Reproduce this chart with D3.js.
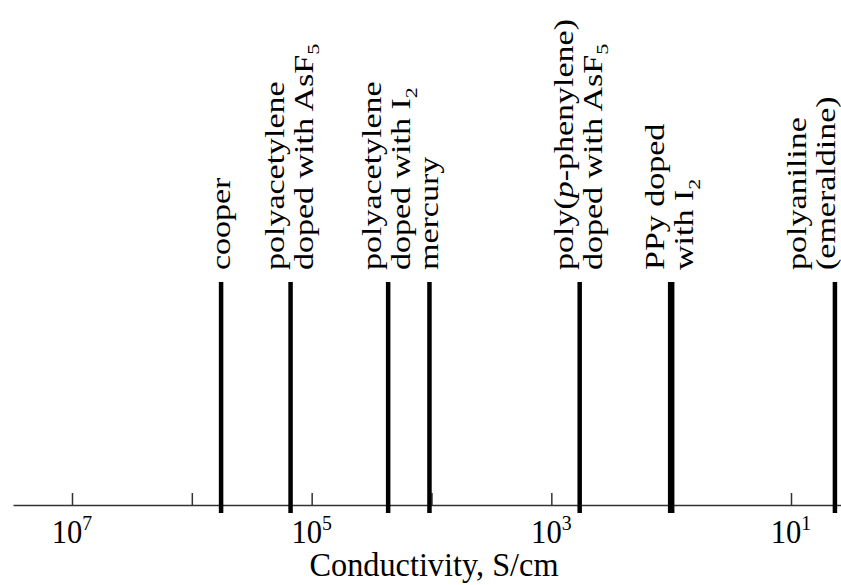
<!DOCTYPE html>
<html>
<head>
<meta charset="utf-8">
<script src="https://cdn.jsdelivr.net/npm/d3@7"></script>
<style>
  body { margin: 0; background: #fff; }
  text { font-family: "Liberation Serif", "Times New Roman", serif; fill: #000; }
</style>
</head>
<body>
<div id="chart"></div>
<script>
// materials and their conductivity (S/cm)
var materials = ["cooper", "polyacetylene AsF5", "polyacetylene I2", "mercury",
  "poly(p-phenylene) AsF5", "PPy I2", "polyaniline"];
var conductivity = [5.7e5, 1.5e5, 2.3e4, 1.04e4, 580, 100, 4.3];
// label lines, "_x" = subscript, "*x*" = italic
var labelLines = [
  ["cooper"],
  ["polyacetylene", "doped with AsF_5"],
  ["polyacetylene", "doped with I_2"],
  ["mercury"],
  ["poly(*p*-phenylene)", "doped with AsF_5"],
  ["PPy doped", "with I_2"],
  ["polyaniline", "(emeraldine)"]
];
var tickExponents = [7, 6, 5, 4, 3, 2, 1];
var labeledExponents = [7, 5, 3, 1];
var axisTitle = "Conductivity, S/cm";

var width = 841;
var height = 585;
var axisY = 505;
var lineTop = 282;
var lineBottom = 513;
var labelStart = 270;
var fontSize = 34;
// the labels are a bit narrow across the baseline
var squeeze = 0.8;

var svg = d3.select("#chart")
  .append("svg")
  .attr("width", width)
  .attr("height", height);

// reversed log scale, 10^7 on the left
var x_Scale = d3.scaleLog()
  .domain([1e7, 1e1])
  .range([72, 791]);

// axis line over the whole width
var x_Full = x_Scale.copy().domain([x_Scale.invert(13), x_Scale.invert(width)]).range([13, width]);

var x_Axis = d3.axisBottom(x_Full)
  .tickValues(tickExponents.map(function(e) { return Math.pow(10, e); }))
  .tickSizeInner(-12)
  .tickSizeOuter(0)
  .tickFormat("");

var axisG = svg.append("g")
  .attr("class", "xAxis")
  .attr("transform", "translate(0," + axisY + ")")
  .call(x_Axis);

axisG.select(".domain").attr("stroke", "#333").attr("stroke-width", 1.5);
axisG.selectAll(".tick line").attr("stroke", "#333").attr("stroke-width", 1.5);

// tick labels 10^n
var tickLabels = svg.append("g").selectAll("text")
  .data(labeledExponents)
  .enter()
  .append("text")
  .attr("transform", function(d) {
    return "translate(" + x_Scale(Math.pow(10, d)) + ",543)scale(0.9,1)";
  })
  .attr("text-anchor", "middle")
  .attr("font-size", fontSize);

tickLabels.append("tspan").text("10");
tickLabels.append("tspan")
  .attr("dy", -13)
  .attr("font-size", 22)
  .text(function(d) { return d; });

// axis title
svg.append("text")
  .attr("transform", "translate(434,576)scale(0.95,1)")
  .attr("text-anchor", "middle")
  .attr("font-size", fontSize)
  .text(axisTitle);

var data = materials.map(function(m, i) {
  return { name: m, value: conductivity[i], lines: labelLines[i] };
});

// vertical marker lines
svg.append("g").selectAll("line")
  .data(data)
  .enter()
  .append("line")
  .attr("x1", function(d) { return x_Scale(d.value); })
  .attr("x2", function(d) { return x_Scale(d.value); })
  .attr("y1", lineTop)
  .attr("y2", lineBottom)
  .attr("stroke", "#000")
  .attr("stroke-width", function(d) { return d.name === "PPy I2" ? 6.5 : 4.5; });

// write one label line with sub / italic markup
function writeLine(textSel, str) {
  var parts = str.split(/(_\d|\*[^*]+\*)/).filter(function(p) { return p.length; });
  parts.forEach(function(p) {
    if (p[0] === "_") {
      textSel.append("tspan")
        .attr("dy", 8)
        .attr("font-size", 22)
        .text(p.slice(1));
    }
    else if (p[0] === "*") {
      textSel.append("tspan")
        .attr("font-style", "italic")
        .text(p.slice(1, -1));
    }
    else {
      textSel.append("tspan").text(p);
    }
  });
}

var labelG = svg.append("g");

data.forEach(function(d) {
  var lx = x_Scale(d.value);
  var baselines;
  if (d.lines.length === 1) {
    baselines = [lx + 9];
  }
  else {
    var cx = Math.min(lx, 813);
    baselines = [cx - 7, cx + 22];
  }
  d.lines.forEach(function(line, j) {
    var t = labelG.append("text")
      .attr("font-size", fontSize)
      .attr("text-anchor", "start")
      .attr("transform", "translate(" + baselines[j] + "," + labelStart + ")rotate(-90)scale(1," + squeeze + ")");
    writeLine(t, line);
  });
});
</script>
</body>
</html>
